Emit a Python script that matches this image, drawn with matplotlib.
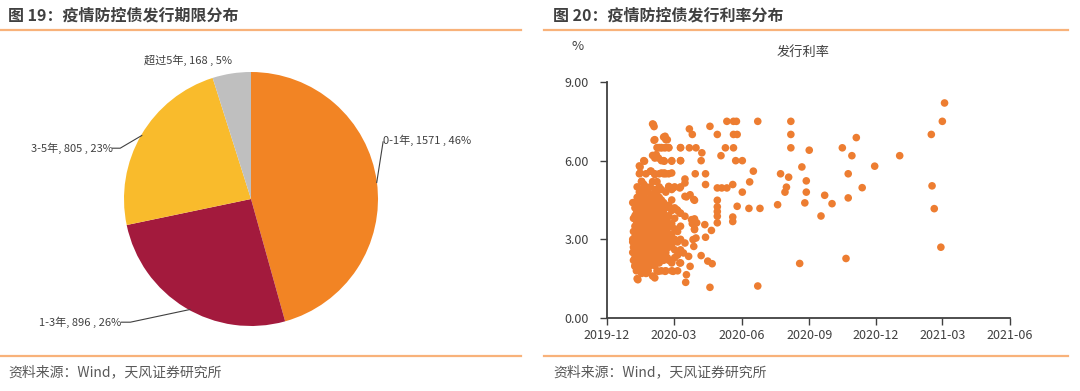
import numpy as np
import matplotlib
matplotlib.use("Agg")
import matplotlib.pyplot as plt
import matplotlib.dates as mdates
from matplotlib.lines import Line2D

plt.rcParams['font.family'] = ['Noto Sans CJK SC', 'DejaVu Sans']

# ---- left: term distribution (pie) ----
terms = ['0-1年', '1-3年', '3-5年', '超过5年']
amounts = [1571, 896, 805, 168]
shares = ['46%', '26%', '23%', '5%']
pie_colors = ['#F28424', '#A31A3D', '#F9BB2C', '#BFBFBF']

# ---- right: issue rate vs issue date (days after 2019-12-01) ----
start = np.datetime64('2019-12-01')
# dense cluster, read column by column: (day, rates)
core_cols = [
    (35, [2.5, 2.9, 3.0, 4.4]),
    (36, [2.2, 2.7, 3.3, 3.8]),
    (38, [2.0, 2.3, 2.7, 3.1, 3.5, 3.9, 4.2]),
    (40, [1.8, 2.5, 2.9, 3.3, 3.7, 4.0]),
    (41, [1.5, 1.9, 2.2, 2.6, 2.9, 3.3, 3.7, 4.1, 4.6, 5.0]),
    (43, [2.0, 2.4, 2.7, 3.0, 3.4, 3.9, 4.4]),
    (44, [1.8, 2.1, 2.4, 2.8, 3.2, 3.5, 3.8, 4.3, 4.8, 5.5, 5.8]),
    (46, [2.2, 2.5, 2.9, 3.2, 3.6, 4.2, 4.6]),
    (47, [1.7, 2.0, 2.3, 2.6, 3.0, 3.3, 3.6, 4.0, 4.4, 4.9, 5.2]),
    (49, [2.1, 2.4, 2.8, 3.1, 3.4, 3.7, 4.1, 4.5]),
    (50, [1.9, 2.2, 2.5, 2.9, 3.2, 3.5, 3.9, 4.3, 4.7, 5.1, 6.0]),
    (52, [2.0, 2.3, 2.6, 3.0, 3.3, 3.6, 4.0, 4.4]),
    (53, [1.7, 2.1, 2.4, 2.8, 3.1, 3.4, 3.7, 4.1, 4.5, 5.0, 5.5]),
    (55, [2.3, 2.5, 2.8, 3.1, 3.5, 3.9, 4.2]),
    (56, [1.8, 2.2, 2.6, 2.9, 3.3, 3.6, 4.0, 4.4, 4.8]),
    (58, [2.2, 2.5, 2.8, 3.2, 3.6, 4.0, 4.4]),
    (59, [2.0, 2.4, 2.7, 3.0, 3.4, 3.8, 4.2, 4.6, 5.0, 5.6]),
    (61, [2.1, 2.5, 2.8, 3.1, 3.5, 3.8, 4.1, 4.5]),
    (62, [1.6, 2.3, 2.6, 2.9, 3.2, 3.6, 3.9, 4.3, 4.7, 5.2, 6.2, 7.4]),
    (64, [2.2, 2.6, 3.0, 3.3, 3.7, 4.0, 4.3, 4.6]),
    (65, [2.0, 2.5, 2.8, 3.1, 3.5, 3.8, 4.1, 4.5, 4.9, 5.5, 6.1, 6.8]),
    (67, [2.4, 2.6, 2.9, 3.2, 3.6, 3.9, 4.2, 4.6]),
    (68, [1.8, 2.3, 2.7, 3.0, 3.4, 3.7, 4.0, 4.4, 4.8, 5.2, 6.5]),
    (70, [2.3, 2.7, 3.1, 3.5, 3.8, 4.1, 4.4]),
    (71, [2.1, 2.6, 2.9, 3.3, 3.6, 3.9, 4.2, 4.6, 5.0, 5.5, 6.5]),
    (73, [2.2, 2.6, 3.0, 3.3, 3.7, 4.0, 4.3]),
    (74, [1.8, 2.4, 2.8, 3.1, 3.5, 3.8, 4.1, 4.5, 4.9, 6.0, 6.5]),
    (76, [2.4, 2.8, 3.2, 3.6, 3.9, 4.2]),
    (77, [2.2, 2.6, 3.0, 3.4, 3.7, 4.0, 4.4, 5.5, 6.0, 6.9]),
    (80, [1.8, 2.5, 2.9, 3.3, 3.6, 4.2, 4.8, 5.5, 6.5, 6.8]),
    (82, [2.3, 2.7, 3.1, 3.4, 3.8]),
    (84, [2.2, 2.7, 3.0, 3.5, 3.9, 4.3, 5.0, 5.5, 6.5]),
    (88, [1.8, 2.1, 2.8, 3.2, 3.6, 4.1, 4.5, 4.9, 6.0]),
    (92, [2.3, 2.6, 3.0, 3.4, 3.8, 4.2, 5.0]),
    (96, [1.8, 2.4, 2.9, 3.3, 4.1]),
    (100, [2.1, 2.6, 3.0, 3.5, 4.0, 5.0, 6.0, 6.5]),
]
edge_days = [63, 64, 79, 82, 64, 70, 74, 78, 84, 67, 70, 51, 78, 88, 45, 45, 60, 65,
             74, 78, 88, 106, 84, 90, 99, 47, 47, 37, 42, 108, 118, 95, 99, 106, 115,
             122, 119, 117, 118, 106, 104, 111, 99, 113, 108, 88, 90, 79, 70, 65, 54,
             42, 47, 58, 38]
edge_rates = [7.38, 7.3, 6.93, 6.8, 6.78, 6.49, 6.49, 6.49, 6.49, 6.23, 6.1, 5.98, 5.98,
              5.98, 5.76, 5.53, 5.6, 5.47, 5.53, 5.53, 5.53, 5.3, 5.02, 4.96, 4.96, 5.21,
              4.9, 4.39, 4.13, 4.62, 4.52, 4.13, 4.0, 3.88, 3.75, 3.63, 3.37, 2.99, 2.73,
              2.86, 2.48, 2.35, 2.1, 1.97, 1.65, 2.16, 1.78, 1.78, 1.78, 1.53, 1.72, 1.46,
              1.97, 2.1, 1.97]
mid_days = [140, 163, 112, 116, 150, 100, 112, 121, 161, 129, 155, 100, 128, 120, 134,
            134, 150, 156, 163, 106, 106, 113, 119, 150, 150, 150, 150, 150, 133, 142,
            134, 128, 137, 143, 140, 107, 119, 121, 116, 119]
mid_rates = [7.31, 7.5, 7.21, 7.0, 7.0, 6.49, 6.49, 6.49, 6.49, 6.3, 6.19, 6.0, 6.0, 5.5,
             5.5, 5.09, 4.96, 4.96, 4.96, 5.15, 4.64, 4.7, 4.49, 4.49, 4.24, 4.06, 3.88,
             3.63, 3.56, 3.34, 3.08, 2.38, 2.17, 2.07, 1.17, 1.36, 3.4, 3.05, 3.6, 3.78]
late_days = [172, 176, 205, 250, 172, 177, 250, 172, 250, 275, 320, 175, 184, 199, 236,
             247, 265, 271, 328, 171, 194, 184, 244, 242, 271, 296, 328, 177, 193, 208,
             232, 269, 306, 291, 171, 171, 325, 262, 205, 459, 456, 441, 339, 333, 398,
             364, 347, 442, 445, 454]
late_rates = [7.5, 7.5, 7.5, 7.5, 7.0, 7.0, 7.0, 6.49, 6.49, 6.4, 6.49, 6.0, 6.0, 5.6, 5.5,
              5.37, 5.76, 5.23, 5.5, 5.09, 5.19, 4.8, 4.99, 4.8, 4.8, 4.68, 4.58, 4.26,
              4.18, 4.18, 4.32, 4.39, 4.36, 3.89, 3.85, 3.68, 2.27, 2.08, 1.22, 8.2, 7.5,
              7.0, 6.88, 6.19, 6.19, 5.79, 4.97, 5.04, 4.17, 2.7]

W, H = 1080, 391
fig = plt.figure(figsize=(W / 100, H / 100), dpi=100)
fig.patch.set_facecolor('white')


def fx(px):
    return px / W


def fy(py):
    return 1 - py / H


title_c = '#404040'
line_c = '#F8B27A'
fig.text(fx(8), fy(16), '图 19：疫情防控债发行期限分布', fontsize=11.5, fontweight='bold',
         color=title_c, va='center')
fig.text(fx(553), fy(16), '图 20：疫情防控债发行利率分布', fontsize=11.5, fontweight='bold',
         color=title_c, va='center')
for x0, x1 in [(0, 521), (544, 1068)]:
    fig.add_artist(Line2D([fx(x0), fx(x1)], [fy(30), fy(30)], color=line_c, lw=1.6))
    fig.add_artist(Line2D([fx(x0), fx(x1)], [fy(356), fy(356)], color=line_c, lw=1.6))
fig.text(fx(8), fy(372), '资料来源：Wind，天风证券研究所', fontsize=10, color='#595959', va='center')
fig.text(fx(553), fy(372), '资料来源：Wind，天风证券研究所', fontsize=10, color='#595959', va='center')

# pie
r = 127
cx, cy = 251, 199
ax1 = fig.add_axes([fx(cx - r), fy(cy + r), 2 * r / W, 2 * r / H])
ax1.pie(amounts, colors=pie_colors, startangle=90, counterclock=False,
        wedgeprops=dict(linewidth=0))
ax1.set_xlim(-1, 1)
ax1.set_ylim(-1, 1)
ax1.set_aspect('equal')
labels = [f'{t}, {a} , {s}' for t, a, s in zip(terms, amounts, shares)]
lab_kw = dict(fontsize=8, color='#404040', va='center')
lc = '#404040'
ax1.text(1.04, 0.46, labels[0], ha='left', **lab_kw)
ax1.plot([0.99, 1.04], [0.13, 0.45], color=lc, lw=0.8, clip_on=False)
ax1.text(-1.02, -0.97, labels[1], ha='right', **lab_kw)
ax1.plot([-1.02, -0.95, -0.48], [-0.97, -0.97, -0.87], color=lc, lw=0.8, clip_on=False)
ax1.text(-1.09, 0.40, labels[2], ha='right', **lab_kw)
ax1.plot([-1.09, -1.03, -0.86], [0.40, 0.40, 0.50], color=lc, lw=0.8, clip_on=False)
ax1.text(-0.50, 1.09, labels[3], ha='center', **lab_kw)

# scatter
days = [d for d, rs in core_cols for _ in rs] + edge_days + mid_days + late_days
rates = [v for _, rs in core_cols for v in rs] + edge_rates + mid_rates + late_rates
dates = start + np.array(days).astype('timedelta64[D]')

ax2 = fig.add_axes([fx(607), fy(318), (1010 - 607) / W, (318 - 82) / H])
ax2.scatter(dates, rates, s=30, color='#ED7D31', edgecolors='none', zorder=3)
ax2.set_xlim(start, np.datetime64('2021-06-01'))
ax2.set_ylim(0, 9)
ax2.set_yticks([0, 3, 6, 9])
ax2.yaxis.set_major_formatter(matplotlib.ticker.FormatStrFormatter('%.2f'))
ax2.xaxis.set_major_locator(mdates.MonthLocator(bymonth=[3, 6, 9, 12]))
ax2.xaxis.set_major_formatter(mdates.DateFormatter('%Y-%m'))
for s in ['top', 'right']:
    ax2.spines[s].set_visible(False)
for s in ['left', 'bottom']:
    ax2.spines[s].set_color('#404040')
    ax2.spines[s].set_linewidth(1.3)
ax2.tick_params(axis='both', colors='#404040', labelsize=9, length=5, width=1,
                labelcolor='#404040')
ax2.tick_params(axis='y', pad=8)
ax2.tick_params(axis='x', pad=3)
fig.text(fx(578), fy(47), '%', fontsize=9.5, color='#404040', ha='center', va='center')
fig.text(fx(803), fy(52), '发行利率', fontsize=9.5, color='#404040', ha='center', va='center')

fig.savefig('out.png', dpi=100)
